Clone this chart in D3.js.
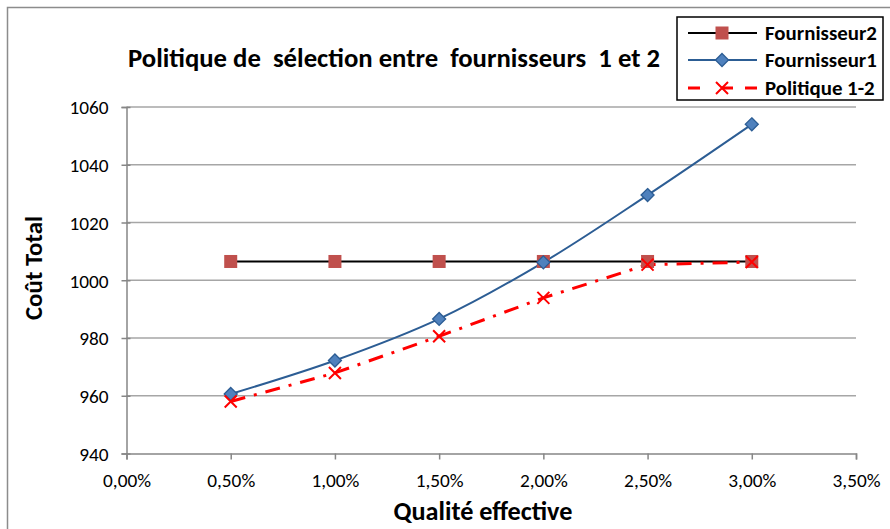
<!DOCTYPE html>
<html><head><meta charset="utf-8">
<script src="https://cdn.jsdelivr.net/npm/d3@7"></script>
<style>
body{margin:0;background:#fff;}
text{font-family:Carlito,Lato,"Liberation Sans",sans-serif;}
</style></head>
<body>
<svg id="c" width="890" height="529"></svg>
<script>
const xValues = [0.005, 0.010, 0.015, 0.020, 0.025, 0.030];
const fournisseur2 = [1006.5, 1006.5, 1006.5, 1006.5, 1006.5, 1006.5];
const fournisseur1 = [960.6, 972.2, 986.6, 1006.2, 1029.5, 1054.0];
const politique12 = [958.0, 967.9, 980.6, 993.9, 1005.4, 1006.3];
const xTicks = [0, 0.005, 0.01, 0.015, 0.02, 0.025, 0.03, 0.035];
const yTicks = [940, 960, 980, 1000, 1020, 1040, 1060];
const seriesNames = ["Fournisseur2", "Fournisseur1", "Politique 1-2"];
const titleText = "Politique de  sélection entre  fournisseurs  1 et 2";

const svg = d3.select("#c");
// size a text so its width matches a target width
function fit(sel, target){
  const base = 20;
  sel.style("font-size", base+"px");
  const w = sel.node().getComputedTextLength();
  const s = base*target/w;
  sel.style("font-size", s.toFixed(2)+"px");
  return s;
}

svg.append("rect").attr("x",7.5).attr("y",7.5).attr("width",900).attr("height",540)
  .attr("fill","none").attr("stroke","#8c8c8c").attr("stroke-width",1.5);

const x = d3.scaleLinear().domain([0,0.035]).range([126.5,856]);
const y = d3.scaleLinear().domain([940,1060]).range([453.5,107]);
const fmtX = d => d3.format(".2f")(d*100).replace(".",",")+"%";

// gridlines
svg.append("g").selectAll("line").data(yTicks.slice(1)).join("line")
  .attr("x1",x(0)).attr("x2",x(0.035)).attr("y1",d=>y(d)).attr("y2",d=>y(d))
  .attr("stroke","#a6a6a6").attr("stroke-width",1.5);

// axes
const yAxis = svg.append("g").attr("transform",`translate(${x(0)},0)`)
  .call(d3.axisLeft(y).tickValues(yTicks).tickFormat(d3.format("d")).tickSize(5).tickPadding(13));
yAxis.selectAll(".tick line").attr("x2",-5).attr("x1",4);
const xAxis = svg.append("g").attr("transform",`translate(0,${y(940)})`)
  .call(d3.axisBottom(x).tickValues(xTicks).tickFormat(fmtX).tickSize(6).tickPadding(14));
[yAxis,xAxis].forEach(a=>{
  a.select(".domain").attr("stroke","#868686").attr("stroke-width",1.5);
  a.selectAll(".tick line").attr("stroke","#868686").attr("stroke-width",1.5);
  a.selectAll("text").attr("fill","#000").style("font-family","Carlito,Lato,sans-serif");
});
// tick label size from width of "0,50%" (~49px)
const tsz = fit(xAxis.selectAll(".tick text").filter((d,i)=>i===1), 48);
xAxis.selectAll(".tick text").style("font-size",tsz+"px");
yAxis.selectAll(".tick text").style("font-size",tsz+"px").attr("dy","0.35em");

// lines
const pts = v => xValues.map((d,i)=>[x(d),y(v[i])]);
svg.append("path").attr("d",d3.line()(pts(fournisseur2)))
  .attr("fill","none").attr("stroke","#000").attr("stroke-width",2);
svg.append("path").attr("d",d3.line().curve(d3.curveCatmullRom.alpha(0.5))(pts(fournisseur1)))
  .attr("fill","none").attr("stroke","#2c5d94").attr("stroke-width",2);
svg.append("path").attr("d",d3.line()(pts(politique12)))
  .attr("fill","none").attr("stroke","#ff0000").attr("stroke-width",3).attr("stroke-dasharray","15,9,3,9");

// markers
function square(g,cx,cy){g.append("rect").attr("x",cx-6.5).attr("y",cy-6.5).attr("width",13).attr("height",13).attr("fill","#c0504d");}
function diamond(g,cx,cy){g.append("path").attr("d",`M${cx},${cy-6.5}L${cx+6.5},${cy}L${cx},${cy+6.5}L${cx-6.5},${cy}Z`).attr("fill","#4f81bd").attr("stroke","#2c5d94").attr("stroke-width",1.3);}
function cross(g,cx,cy){g.append("path").attr("d",`M${cx-6},${cy-6}L${cx+6},${cy+6}M${cx+6},${cy-6}L${cx-6},${cy+6}`).attr("stroke","#ff0000").attr("stroke-width",2);}
const mg = svg.append("g");
pts(fournisseur2).forEach(p=>square(mg,p[0],p[1]));
pts(fournisseur1).forEach(p=>diamond(mg,p[0],p[1]));
pts(politique12).forEach(p=>cross(mg,p[0],p[1]));

// titles
const tt = svg.append("text").attr("x",128).attr("y",67)
  .style("font-weight","bold").style("white-space","pre").text(titleText);
fit(tt, 532);
const yt = svg.append("text").attr("transform","translate(42,268) rotate(-90)").attr("text-anchor","middle")
  .style("font-weight","bold").text("Coût Total");
fit(yt, 104);
const xt = svg.append("text").attr("x",483).attr("y",520).attr("text-anchor","middle")
  .style("font-weight","bold").text("Qualité effective");
fit(xt, 179);

// legend
const lg = svg.append("g");
lg.append("rect").attr("x",677).attr("y",17).attr("width",206).attr("height",83)
  .attr("fill","#fff").attr("stroke","#000").attr("stroke-width",1.5);
const ly = [33,60,88];
const lstyles = [
  {stroke:"#000",w:2,dash:null,m:square},
  {stroke:"#2c5d94",w:2,dash:null,m:diamond},
  {stroke:"#ff0000",w:3,dash:"12,21,12",m:cross}];
let lsz = null;
seriesNames.forEach((n,i)=>{
  const s=lstyles[i];
  lg.append("line").attr("x1",688).attr("x2",757).attr("y1",ly[i]).attr("y2",ly[i])
    .attr("stroke",s.stroke).attr("stroke-width",s.w).attr("stroke-dasharray",s.dash);
  s.m(lg,722,ly[i]);
  const t = lg.append("text").attr("x",765).attr("y",ly[i]).attr("dy","0.35em")
    .style("font-weight","bold").text(n);
  if(i===0) lsz = fit(t, 112); else t.style("font-size",lsz+"px");
});
</script>
</body></html>
